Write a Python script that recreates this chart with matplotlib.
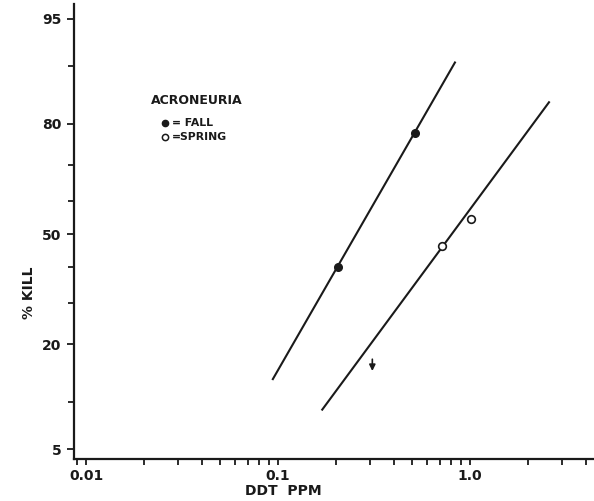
import numpy as np
from statistics import NormalDist
from matplotlib import pyplot as plt
from matplotlib.ticker import FixedLocator, NullFormatter, LogLocator

# Data (DDT ppm vs % kill)
fall_ppm = [0.205, 0.517]
fall_kill = [40.0, 78.0]
spring_ppm = [0.715, 1.01]
spring_kill = [46.5, 54.5]

# fitted lines (end points)
fall_line_ppm = [0.094, 0.835]
fall_line_kill = [13.4, 90.5]
spring_line_ppm = [0.17, 2.58]
spring_line_kill = [9.0, 84.3]

# arrow (less than) marker
arrow_ppm = 0.31
arrow_kill = [17.5, 14.3]

y_major = [5, 20, 50, 80, 95]
y_minor = [10, 30, 40, 60, 70, 90]
x_major = [0.01, 0.1, 1.0]
x_labels = ["0.01", "0.1", "1.0"]

nd = NormalDist()


def probit(p):
    p = np.clip(np.asarray(p, dtype=float), 1e-6, 100 - 1e-6)
    return np.vectorize(lambda v: nd.inv_cdf(v / 100.0))(p)


def inv_probit(z):
    z = np.asarray(z, dtype=float)
    return np.vectorize(lambda v: nd.cdf(v) * 100.0)(z)


ink = "#1a1a1a"
fig = plt.figure(figsize=(5.94, 5.01), dpi=100)
ax = fig.add_axes([0.1246, 0.0838, 0.8754, 0.908])

ax.set_xscale("log")
ax.set_yscale("function", functions=(probit, inv_probit))
ax.set_xlim(10 ** -2.0625, 10 ** 0.646)
ax.set_ylim(4.29, 96.05)

ax.plot(fall_line_ppm, fall_line_kill, color=ink, lw=1.5, zorder=2)
ax.plot(spring_line_ppm, spring_line_kill, color=ink, lw=1.5, zorder=2)
ax.plot(fall_ppm, fall_kill, "o", color=ink, ms=5.5, zorder=3)
ax.plot(spring_ppm, spring_kill, "o", mfc="white", mec=ink, mew=1.2, ms=5.5, zorder=3)
ax.annotate("", xy=(arrow_ppm, arrow_kill[1]), xytext=(arrow_ppm, arrow_kill[0]),
            arrowprops=dict(arrowstyle="-|>", color=ink, lw=1.2, mutation_scale=9))

# axes styling
for s in ["top", "right"]:
    ax.spines[s].set_visible(False)
for s in ["left", "bottom"]:
    ax.spines[s].set_linewidth(1.6)
    ax.spines[s].set_color(ink)

ax.yaxis.set_major_locator(FixedLocator(y_major))
ax.yaxis.set_minor_locator(FixedLocator(y_minor))
ax.set_yticklabels([str(v) for v in y_major])
ax.yaxis.set_minor_formatter(NullFormatter())

ax.xaxis.set_major_locator(FixedLocator(x_major))
ax.set_xticklabels(x_labels)
ax.xaxis.set_minor_locator(LogLocator(base=10, subs=np.arange(2, 10)))
ax.xaxis.set_minor_formatter(NullFormatter())

ax.tick_params(axis="both", which="both", direction="out", color=ink, width=1.3,
               labelcolor=ink, labelsize=10)
ax.tick_params(axis="y", which="major", length=5, pad=4)
ax.tick_params(axis="y", which="minor", length=4)
ax.tick_params(axis="x", which="both", length=4, pad=3)
for lab in ax.get_xticklabels() + ax.get_yticklabels():
    lab.set_fontweight("bold")

ax.set_ylabel("% KILL", fontsize=10, fontweight="bold", color=ink)
ax.yaxis.set_label_coords(-0.073, 0.365)
ax.set_xlabel("DDT  PPM", fontsize=10, fontweight="bold", color=ink)
ax.xaxis.set_label_coords(0.402, -0.056)

# hand-drawn legend
ax.text(0.148, 0.789, "ACRONEURIA", transform=ax.transAxes, fontsize=9,
        fontweight="bold", color=ink, va="center", ha="left")
ax.plot([0.175], [0.738], "o", color=ink, ms=4.5, transform=ax.transAxes, clip_on=False)
ax.text(0.188, 0.738, "= FALL", transform=ax.transAxes, fontsize=7.8,
        fontweight="bold", color=ink, va="center", ha="left")
ax.plot([0.175], [0.708], "o", mfc="white", mec=ink, mew=1.1, ms=4.5,
        transform=ax.transAxes, clip_on=False)
ax.text(0.188, 0.708, "=SPRING", transform=ax.transAxes, fontsize=7.8,
        fontweight="bold", color=ink, va="center", ha="left")

plt.savefig("out.png", dpi=100)
